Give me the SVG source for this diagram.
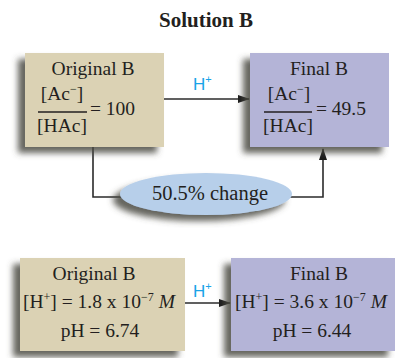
<svg xmlns="http://www.w3.org/2000/svg" width="395" height="358" viewBox="0 0 395 358">
<style>
.t{font-family:"Liberation Serif","Times New Roman",serif;font-size:19.5px;fill:#231f20}
.c{text-anchor:middle}
.h{font-family:"Liberation Sans",Arial,sans-serif;font-size:17px;fill:#1aa3e8}
.tan{fill:#dbd2b4}
.pur{fill:#b4b4d7}
.ln{stroke:#2b2b2b;stroke-width:1.6;fill:none}
.fr{stroke:#231f20;stroke-width:1.3}
</style>
<defs>
<filter id="sh" x="-20%" y="-20%" width="140%" height="150%">
<feGaussianBlur in="SourceAlpha" stdDeviation="3"/>
<feOffset dx="-7" dy="6" result="b"/>
<feFlood flood-color="#4a4a42" flood-opacity="0.85"/>
<feComposite in2="b" operator="in"/>
<feMerge><feMergeNode/><feMergeNode in="SourceGraphic"/></feMerge>
</filter>
<marker id="ah" markerWidth="12" markerHeight="8" refX="11" refY="4" orient="auto" markerUnits="userSpaceOnUse">
<path d="M0,0 L12,4 L0,8 Z" fill="#1a1a1a"/>
</marker>
</defs>
<rect width="395" height="358" fill="#fff"/>
<text id="title" x="206" y="27" class="t c" style="font-weight:bold;font-size:21px">Solution B</text>

<g id="connectors">
<line class="ln" x1="164" y1="99" x2="249" y2="99" marker-end="url(#ah)"/>
<text class="h" x="193" y="90">H<tspan font-size="11" dy="-7">+</tspan></text>
<path class="ln" d="M93 147 V197 H122"/>
<path class="ln" d="M290 197 H323 V149" marker-end="url(#ah)"/>
<line class="ln" x1="185" y1="303" x2="230" y2="303" marker-end="url(#ah)"/>
<text class="h" x="193" y="297">H<tspan font-size="11" dy="-7">+</tspan></text>
</g>

<g id="origA">
<rect class="tan" x="25" y="53" width="139" height="94" filter="url(#sh)"/>
<text class="t c" x="93" y="75">Original B</text>
<text class="t c" x="62" y="100">[Ac<tspan font-size="12" dy="-7">−</tspan><tspan dy="7">]</tspan></text>
<line class="fr" x1="38" y1="112" x2="87" y2="112"/>
<text class="t c" x="62" y="132">[HAc]</text>
<text class="t" x="90" y="115">= 100</text>
</g>

<g id="finalA">
<rect class="pur" x="250" y="53" width="139" height="94" filter="url(#sh)"/>
<text class="t c" x="319" y="75">Final B</text>
<text class="t c" x="289" y="100">[Ac<tspan font-size="12" dy="-7">−</tspan><tspan dy="7">]</tspan></text>
<line class="fr" x1="264" y1="112" x2="312" y2="112"/>
<text class="t c" x="288" y="132">[HAc]</text>
<text class="t" x="316" y="115">= 49.5</text>
</g>

<g id="change">
<ellipse cx="206" cy="194" rx="86" ry="21" fill="#b7cfea" filter="url(#sh)"/>
<text class="t c" x="210" y="200" style="font-size:20.5px">50.5% change</text>
</g>

<g id="origB">
<rect class="tan" x="20" y="258" width="165" height="93" filter="url(#sh)"/>
<text class="t c" x="94" y="280">Original B</text>
<text class="t" x="23" y="308">[H<tspan font-size="12" dy="-7">+</tspan><tspan dy="7">] = 1.8 x 10</tspan><tspan font-size="12" dy="-7">−7</tspan><tspan dy="7" font-style="italic"> M</tspan></text>
<text class="t c" x="100" y="337">pH = 6.74</text>
</g>

<g id="finalB">
<rect class="pur" x="231" y="258" width="164" height="93" filter="url(#sh)"/>
<text class="t c" x="319" y="280">Final B</text>
<text class="t" x="235" y="308">[H<tspan font-size="12" dy="-7">+</tspan><tspan dy="7">] = 3.6 x 10</tspan><tspan font-size="12" dy="-7">−7</tspan><tspan dy="7" font-style="italic"> M</tspan></text>
<text class="t c" x="312" y="337">pH = 6.44</text>
</g>
</svg>
